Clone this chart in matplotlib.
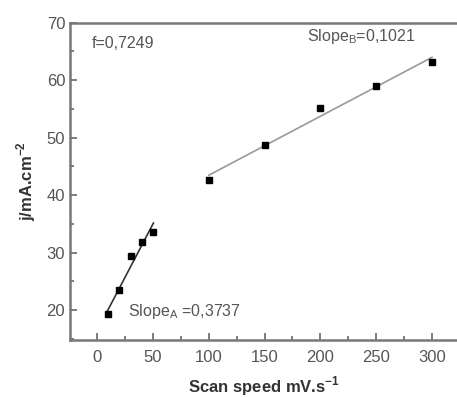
import numpy as np
import matplotlib.pyplot as plt
from matplotlib.ticker import MultipleLocator

plt.rcParams['font.family'] = ['Liberation Sans', 'DejaVu Sans']

# scan speed (mV/s) and current density (mA/cm2)
speed_a = [10, 20, 30, 40, 50]
j_a = [19.25, 23.5, 29.4, 31.9, 33.6]
speed_b = [100, 150, 200, 250, 300]
j_b = [42.6, 48.7, 55.1, 59.0, 63.1]

grey = "#555555"

fig = plt.figure(figsize=(4.57, 3.97), dpi=100)
ax = fig.add_axes([0.1532, 0.1436, 0.8468, 0.7997])

# fitted lines
pa = np.polyfit(speed_a, j_a, 1)
xa = np.array([9, 50.5])
ax.plot(xa, np.polyval(pa, xa), color="#333333", lw=1.2)
pb = np.polyfit(speed_b, j_b, 1)
xb = np.array([100, 300])
ax.plot(xb, np.polyval(pb, xb), color="#999999", lw=1.2)

ax.plot(speed_a, j_a, "s", color="black", ms=4.3)
ax.plot(speed_b, j_b, "s", color="black", ms=4.3)

ax.set_xlim(-24.2, 322.3)
ax.set_ylim(14.8, 70)
ax.xaxis.set_major_locator(MultipleLocator(50))
ax.xaxis.set_minor_locator(MultipleLocator(25))
ax.yaxis.set_major_locator(MultipleLocator(10))
ax.yaxis.set_minor_locator(MultipleLocator(5))
ax.tick_params(which="both", direction="in", colors="#666666", labelcolor=grey,
               labelsize=12, width=1.2)
ax.tick_params(which="major", length=5)
ax.tick_params(which="minor", length=3)
ax.tick_params(axis="x", pad=7)
ax.tick_params(top=False, right=False)

for s in ["left", "bottom", "top"]:
    ax.spines[s].set_color("#777777")
    ax.spines[s].set_linewidth(1.8)
ax.spines["right"].set_visible(False)

ax.set_xlabel("Scan speed mV.s$^{\\mathregular{-1}}$", fontsize=12, fontweight="bold",
              color="#333333", labelpad=7)
ax.set_ylabel("j/mA.cm$^{\\mathregular{-2}}$", fontsize=12, fontweight="bold",
              color="#333333", labelpad=6)

ax.text(-4.5, 66.4, "f=0,7249", fontsize=11.5, color=grey, va="center")
ax.text(188, 67.5, "Slope$_{\\mathregular{B}}$=0,1021", fontsize=11.5, color=grey, va="center")
ax.text(28, 19.7, "Slope$_{\\mathregular{A}}$ =0,3737", fontsize=11.5, color=grey, va="center")

fig.savefig("out.png", dpi=100)
